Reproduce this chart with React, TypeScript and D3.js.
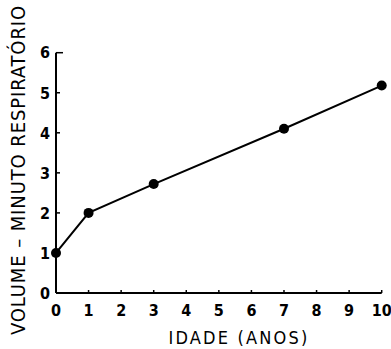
import React from "react";
import * as d3 from "d3";

const ages = [0, 1, 3, 7, 10];
const volumes = [1.0, 2.0, 2.72, 4.1, 5.18];
const xTicks = [0, 1, 2, 3, 4, 5, 6, 7, 8, 9, 10];
const yTicks = [0, 1, 2, 3, 4, 5, 6];
const xTitle = "IDADE (ANOS)";
const yTitle = "VOLUME – MINUTO RESPIRATÓRIO";

const W = 391;
const H = 349;
const left = 56;
const right = 381.7;
const top = 52.7;
const bottom = 293;

export default function App() {
  const x = d3.scaleLinear().domain([0, 10]).range([left, right]);
  const y = d3.scaleLinear().domain([0, 6]).range([bottom, top]);
  const line = d3
    .line<number>()
    .x((_, i) => x(ages[i]))
    .y((d) => y(d));
  const font = "'DejaVu Sans Condensed', 'DejaVu Sans', sans-serif";
  return (
    <svg
      width={W}
      height={H}
      style={{ position: "absolute", left: 0, top: 0, background: "#fff" }}
    >
      <rect width={W} height={H} fill="#fff" />
      <line x1={left} x2={left} y1={top} y2={bottom} stroke="#000" strokeWidth={2} />
      <line x1={left} x2={right} y1={bottom} y2={bottom} stroke="#000" strokeWidth={2} />
      {yTicks.map((t) => (
        <g key={"y" + t}>
          {t > 0 && (
            <line x1={left} x2={left + (t === 6 ? 7 : 4)} y1={y(t)} y2={y(t)} stroke="#000" strokeWidth={1.5} />
          )}
          <text
            x={left - 6}
            y={y(t)}
            dy="0.36em"
            textAnchor="end"
            fontFamily={font}
            fontWeight="bold"
            fontSize={16}
          >
            {t}
          </text>
        </g>
      ))}
      {xTicks.map((t) => (
        <g key={"x" + t}>
          {t > 0 && (
            <line x1={x(t)} x2={x(t)} y1={bottom} y2={bottom - 3} stroke="#000" strokeWidth={1.5} />
          )}
          <text
            x={x(t)}
            y={316}
            textAnchor="middle"
            fontFamily={font}
            fontWeight="bold"
            fontSize={16}
          >
            {t}
          </text>
        </g>
      ))}
      <path d={line(volumes) || ""} fill="none" stroke="#000" strokeWidth={2} />
      {volumes.map((v, i) => (
        <circle key={i} cx={x(ages[i])} cy={y(v)} r={5} fill="#000" />
      ))}
      <text
        x={239}
        y={344}
        textAnchor="middle"
        fontFamily={font}
        fontSize={18}
        letterSpacing={2.2}
      >
        {xTitle}
      </text>
      <text
        transform={`translate(25,170) rotate(-90)`}
        textAnchor="middle"
        fontFamily={font}
        fontSize={20}
        letterSpacing={0.9}
      >
        {yTitle}
      </text>
    </svg>
  );
}
